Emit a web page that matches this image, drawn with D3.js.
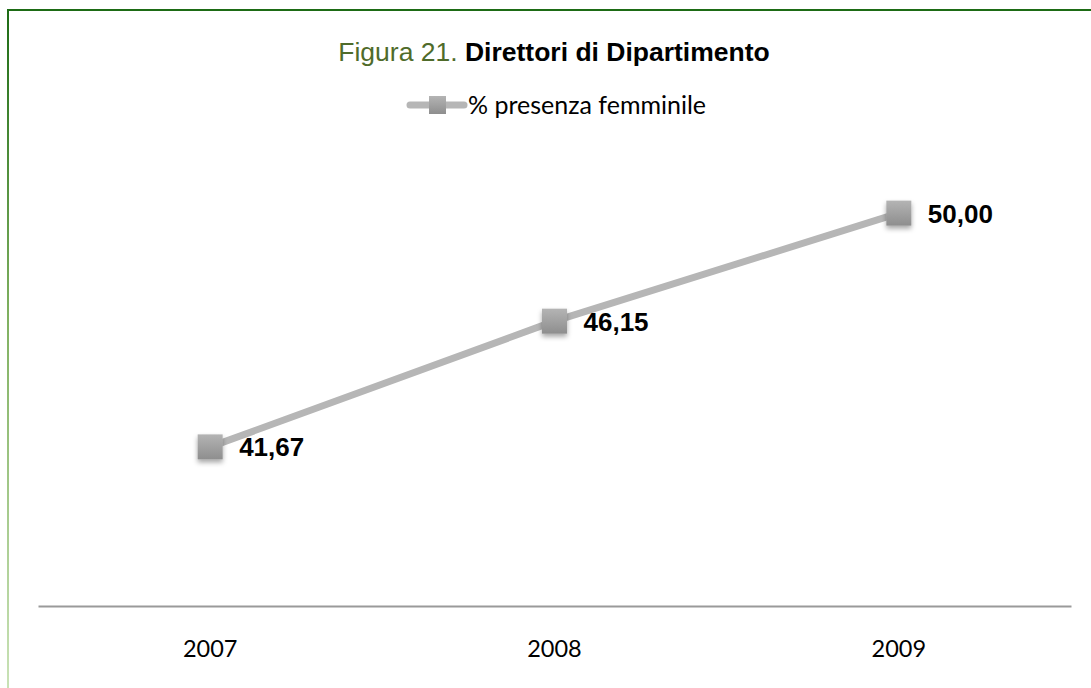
<!DOCTYPE html>
<html>
<head>
<meta charset="utf-8">
<script src="https://cdn.jsdelivr.net/npm/d3@7"></script>
<style>
  body { margin: 0; background: #fff; }
  svg { display: block; }
</style>
</head>
<body>
<svg id="chart"></svg>
<script>
// chart data
const years = ["2007", "2008", "2009"];
const femalePct = [41.67, 46.15, 50.00];
const seriesName = "% presenza femminile";
const yDomain = [36, 52];

const width = 1091, height = 688;
const svg = d3.select("#chart").attr("width", width).attr("height", height);
const defs = svg.append("defs");

// frame gradient (left border fades out)
const fg = defs.append("linearGradient").attr("id", "frameGrad")
    .attr("x1", 0).attr("y1", 0).attr("x2", 0).attr("y2", 1);
fg.append("stop").attr("offset", "0%").attr("stop-color", "#1d6b15");
fg.append("stop").attr("offset", "45%").attr("stop-color", "#7fb060");
fg.append("stop").attr("offset", "100%").attr("stop-color", "#c9e2b6");

// marker fill
const mg = defs.append("linearGradient").attr("id", "markGrad")
    .attr("x1", 0).attr("y1", 0).attr("x2", 0).attr("y2", 1);
mg.append("stop").attr("offset", "0%").attr("stop-color", "#b4b4b4");
mg.append("stop").attr("offset", "100%").attr("stop-color", "#8e8e8e");

const shadow = defs.append("filter").attr("id", "shadow")
    .attr("x", "-50%").attr("y", "-50%").attr("width", "200%").attr("height", "200%");
shadow.append("feDropShadow").attr("dx", 0).attr("dy", 3).attr("stdDeviation", 2.5)
    .attr("flood-color", "#000").attr("flood-opacity", 0.35);

// border
svg.append("rect").attr("x", 7).attr("y", 10).attr("width", 2).attr("height", height - 10)
    .attr("fill", "url(#frameGrad)");
svg.append("rect").attr("x", 7).attr("y", 9).attr("width", width - 7).attr("height", 2)
    .attr("fill", "#1d6b15");

// title
const title = svg.append("text").attr("x", 554).attr("y", 61)
    .attr("text-anchor", "middle")
    .style("font-family", "Liberation Sans, Arial, sans-serif")
    .style("font-size", "26.5px");
title.append("tspan").attr("fill", "#4f6b2a").text("Figura 21. ");
title.append("tspan").attr("fill", "#000").style("font-weight", "bold").text("Direttori di Dipartimento");

// scales
const x = d3.scaleBand().domain(years).range([38, 1071]);
const y = d3.scaleLinear().domain(yDomain).range([606, 157]);

// x axis: baseline only + labels
const xAxis = d3.axisBottom(x).tickSize(0).tickPadding(34);
const gx = svg.append("g").attr("transform", `translate(0,${y(yDomain[0])})`).call(xAxis);
gx.select(".domain").attr("stroke", "#9a9a9a").attr("stroke-width", 2);
gx.selectAll("text")
    .style("font-family", "Lato, 'Open Sans', sans-serif")
    .style("font-size", "23.5px")
    .attr("fill", "#000");

const data = years.map((yr, i) => ({ year: yr, value: femalePct[i] }));
const cx = d => x(d.year) + x.bandwidth() / 2;

// line
svg.append("path").datum(data)
    .attr("fill", "none")
    .attr("stroke", "#b6b6b6")
    .attr("stroke-width", 7)
    .attr("d", d3.line().x(cx).y(d => y(d.value)));

// markers
const ms = 25;
svg.append("g").selectAll("rect").data(data).enter().append("rect")
    .attr("x", d => cx(d) - ms / 2)
    .attr("y", d => y(d.value) - ms / 2)
    .attr("width", ms).attr("height", ms)
    .attr("fill", "url(#markGrad)")
    .attr("filter", "url(#shadow)");

// value labels
const fmt = v => d3.format(".2f")(v).replace(".", ",");
svg.append("g").selectAll("text").data(data).enter().append("text")
    .attr("x", d => cx(d) + 29)
    .attr("y", d => y(d.value) + 9.5)
    .style("font-family", "Liberation Sans, Arial, sans-serif")
    .style("font-size", "26px")
    .style("font-weight", "bold")
    .attr("fill", "#000")
    .text(d => fmt(d.value));

// legend
const lg = svg.append("g").attr("transform", "translate(407,105)");
lg.append("line").attr("x1", 3).attr("x2", 57).attr("y1", 0).attr("y2", 0)
    .attr("stroke", "#b6b6b6").attr("stroke-width", 7).attr("stroke-linecap", "round");
lg.append("rect").attr("x", 22).attr("y", -9).attr("width", 17).attr("height", 18)
    .attr("fill", "url(#markGrad)");
lg.append("text").attr("x", 61).attr("y", 8.5)
    .style("font-family", "Lato, 'Open Sans', sans-serif")
    .style("font-size", "25px")
    .attr("fill", "#000")
    .text(seriesName);
</script>
</body>
</html>
